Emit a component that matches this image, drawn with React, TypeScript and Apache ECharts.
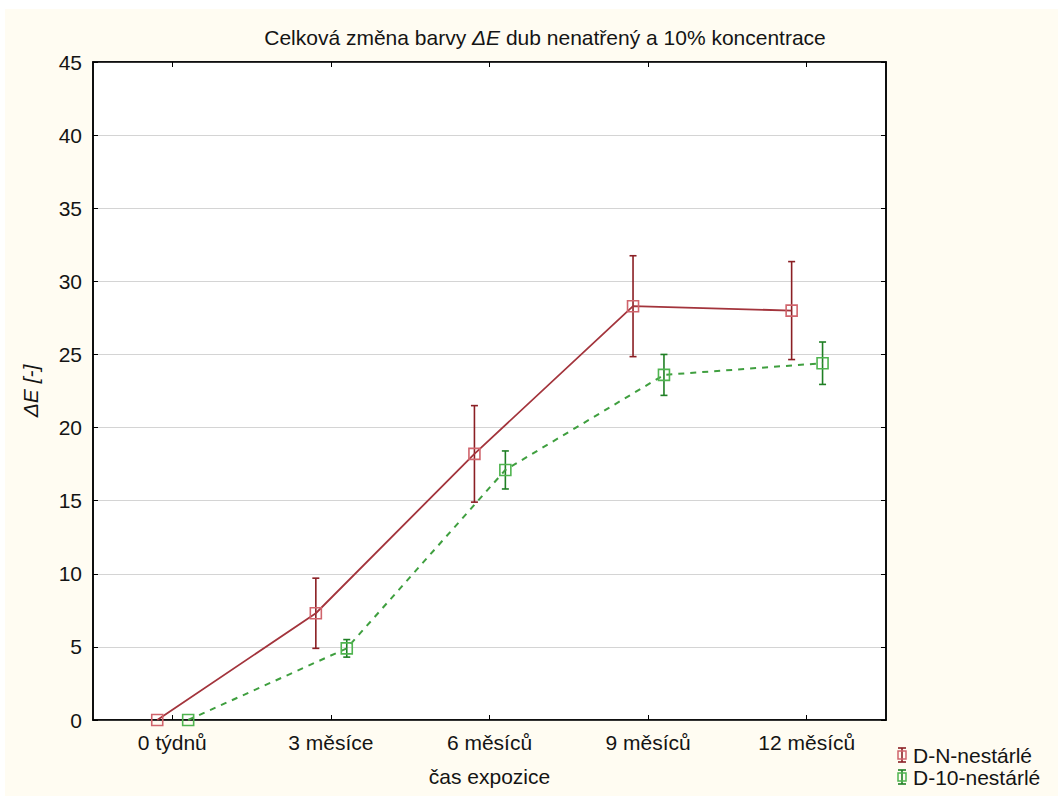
import React, { useEffect, useRef } from "react";
import * as echarts from "echarts";

const categories = ["0 týdnů", "3 měsíce", "6 měsíců", "9 měsíců", "12 měsíců"];
const seriesNames = ["D-N-nestárlé", "D-10-nestárlé"];
const redMean = [0, 7.3, 18.2, 28.3, 28.0];
const redErr = [0, 2.4, 3.3, 3.45, 3.35];
const greenMean = [0, 4.9, 17.1, 23.6, 24.4];
const greenErr = [0, 0.6, 1.3, 1.4, 1.45];
const yTicks = { min: 0, max: 45, interval: 5 };

const FONT = "'Liberation Sans', Arial, sans-serif";
const TXT = "#141414";
const RED_LINE = "#a3343c";
const RED_ERR = "#8b1f24";
const RED_SYM = "#d0646c";
const GREEN_LINE = "#3f9f3f";
const GREEN_ERR = "#1f7f24";
const GREEN_SYM = "#4fb44f";

const RED_OFF = -0.095;
const GREEN_OFF = 0.1;

function errRender(color: string) {
  return (params: any, api: any) => {
    const x = api.value(0);
    const lo = api.value(1);
    const hi = api.value(2);
    if (!(hi - lo > 0)) return null;
    const t = api.coord([x, hi]);
    const b = api.coord([x, lo]);
    const w = 3.5;
    const st = { stroke: color, lineWidth: 1.6 };
    return {
      type: "group",
      children: [
        { type: "line", shape: { x1: t[0], y1: t[1], x2: b[0], y2: b[1] }, style: st },
        { type: "line", shape: { x1: t[0] - w, y1: t[1], x2: t[0] + w, y2: t[1] }, style: st },
        { type: "line", shape: { x1: b[0] - w, y1: b[1], x2: b[0] + w, y2: b[1] }, style: st },
      ],
    };
  };
}

function legendItem(y: number, color: string, sym: string, label: string) {
  const x = 902;
  return [
    { type: "line", shape: { x1: x, y1: y - 7, x2: x, y2: y + 7 }, style: { stroke: color, lineWidth: 1.6 } },
    { type: "line", shape: { x1: x - 4, y1: y - 7, x2: x + 4, y2: y - 7 }, style: { stroke: color, lineWidth: 1.6 } },
    { type: "line", shape: { x1: x - 4, y1: y + 7, x2: x + 4, y2: y + 7 }, style: { stroke: color, lineWidth: 1.6 } },
    { type: "rect", shape: { x: x - 4, y: y - 4, width: 8, height: 8 }, style: { fill: "rgba(255,255,255,0)", stroke: sym, lineWidth: 1.5 } },
    { type: "text", x: 913, y: y, style: { text: label, fill: TXT, font: `21px ${FONT}`, verticalAlign: "middle", align: "left" } },
  ];
}

export default function App() {
  const ref = useRef<HTMLDivElement>(null);
  useEffect(() => {
    if (!ref.current) return;
    const chart = echarts.init(ref.current, null, { renderer: "svg" });
    const redPts = redMean.map((v, i) => [i + RED_OFF, v]);
    const greenPts = greenMean.map((v, i) => [i + GREEN_OFF, v]);
    const redBars = redMean.map((v, i) => [i + RED_OFF, v - redErr[i], v + redErr[i]]);
    const greenBars = greenMean.map((v, i) => [i + GREEN_OFF, v - greenErr[i], v + greenErr[i]]);
    const rich = {
      n: { fontFamily: FONT, fontSize: 21, color: TXT },
      i: { fontFamily: FONT, fontSize: 21, color: TXT, fontStyle: "italic" },
    };
    const axisLine = { show: true, onZero: false, lineStyle: { color: "#000", width: 1.5 } };
    chart.setOption({
      animation: false,
      backgroundColor: "#ffffff",
      graphic: [
        { type: "rect", z: -10, silent: true, shape: { x: 5, y: 9, width: 1053, height: 787 }, style: { fill: "#fffcf2" } },
        ...legendItem(755, RED_ERR, RED_SYM, seriesNames[0]),
        ...legendItem(777, GREEN_ERR, GREEN_SYM, seriesNames[1]),
      ],
      title: {
        text: "{n|Celková změna barvy }{i|ΔE}{n| dub nenatřený a 10% koncentrace}",
        left: 540,
        textAlign: "center",
        top: 22,
        textStyle: { rich, fontFamily: FONT, fontSize: 21, fontWeight: "normal", color: TXT },
      },
      grid: {
        left: 93,
        right: 172,
        top: 62,
        bottom: 76,
        show: true,
        backgroundColor: "#ffffff",
        borderColor: "#000",
        borderWidth: 1.5,
      },
      xAxis: [
        {
          type: "category",
          data: categories,
          position: "bottom",
          boundaryGap: true,
          axisLine,
          axisTick: { show: true, inside: true, alignWithLabel: true, length: 5, lineStyle: { color: "#000" } },
          axisLabel: { color: TXT, fontFamily: FONT, fontSize: 21, margin: 12 },
          name: "čas expozice",
          nameLocation: "middle",
          nameGap: 46,
          nameTextStyle: { color: TXT, fontFamily: FONT, fontSize: 21 },
          splitLine: { show: false },
        },
        {
          type: "category",
          data: categories,
          position: "top",
          boundaryGap: true,
          axisLine,
          axisTick: { show: true, inside: true, alignWithLabel: true, length: 5, lineStyle: { color: "#000" } },
          axisLabel: { show: false },
          splitLine: { show: false },
        },
        {
          type: "value",
          min: -0.5,
          max: 4.5,
          show: false,
          axisLine: { show: false, onZero: false },
          splitLine: { show: false },
        },
      ],
      yAxis: [
        {
          type: "value",
          min: yTicks.min,
          max: yTicks.max,
          interval: yTicks.interval,
          position: "left",
          axisLine,
          axisTick: { show: true, inside: true, length: 5, lineStyle: { color: "#000" } },
          axisLabel: { color: TXT, fontFamily: FONT, fontSize: 21, margin: 11 },
          splitLine: { show: true, lineStyle: { color: "#d4d4d4", width: 1 } },
          name: "ΔE [-]",
          nameLocation: "middle",
          nameGap: 52,
          nameRotate: 90,
          nameTextStyle: { fontFamily: FONT, fontSize: 21, color: TXT, fontStyle: "italic" },
        },
        {
          type: "value",
          min: yTicks.min,
          max: yTicks.max,
          interval: yTicks.interval,
          position: "right",
          axisLine,
          axisTick: { show: true, inside: true, length: 5, lineStyle: { color: "#000" } },
          axisLabel: { show: false },
          splitLine: { show: false },
        },
      ],
      series: [
        {
          name: seriesNames[0] + " err",
          type: "custom",
          xAxisIndex: 2,
          yAxisIndex: 0,
          data: redBars,
          encode: { x: 0, y: [1, 2] },
          renderItem: errRender(RED_ERR),
          z: 3,
        },
        {
          name: seriesNames[1] + " err",
          type: "custom",
          xAxisIndex: 2,
          yAxisIndex: 0,
          data: greenBars,
          encode: { x: 0, y: [1, 2] },
          renderItem: errRender(GREEN_ERR),
          z: 3,
        },
        {
          name: seriesNames[0],
          type: "line",
          xAxisIndex: 2,
          yAxisIndex: 0,
          data: redPts,
          symbol: "rect",
          symbolSize: 11,
          showSymbol: true,
          lineStyle: { color: RED_LINE, width: 1.8, type: "solid" },
          itemStyle: { color: "rgba(255,255,255,0)", borderColor: RED_SYM, borderWidth: 1.6 },
          z: 4,
        },
        {
          name: seriesNames[1],
          type: "line",
          xAxisIndex: 2,
          yAxisIndex: 0,
          data: greenPts,
          symbol: "rect",
          symbolSize: 11,
          showSymbol: true,
          lineStyle: { color: GREEN_LINE, width: 2, type: [6, 6] },
          itemStyle: { color: "rgba(255,255,255,0)", borderColor: GREEN_SYM, borderWidth: 1.6 },
          z: 4,
        },
      ],
    });
    return () => chart.dispose();
  }, []);
  return (
    <div
      ref={ref}
      style={{ position: "absolute", left: 0, top: 0, width: 1058, height: 796 }}
    />
  );
}
